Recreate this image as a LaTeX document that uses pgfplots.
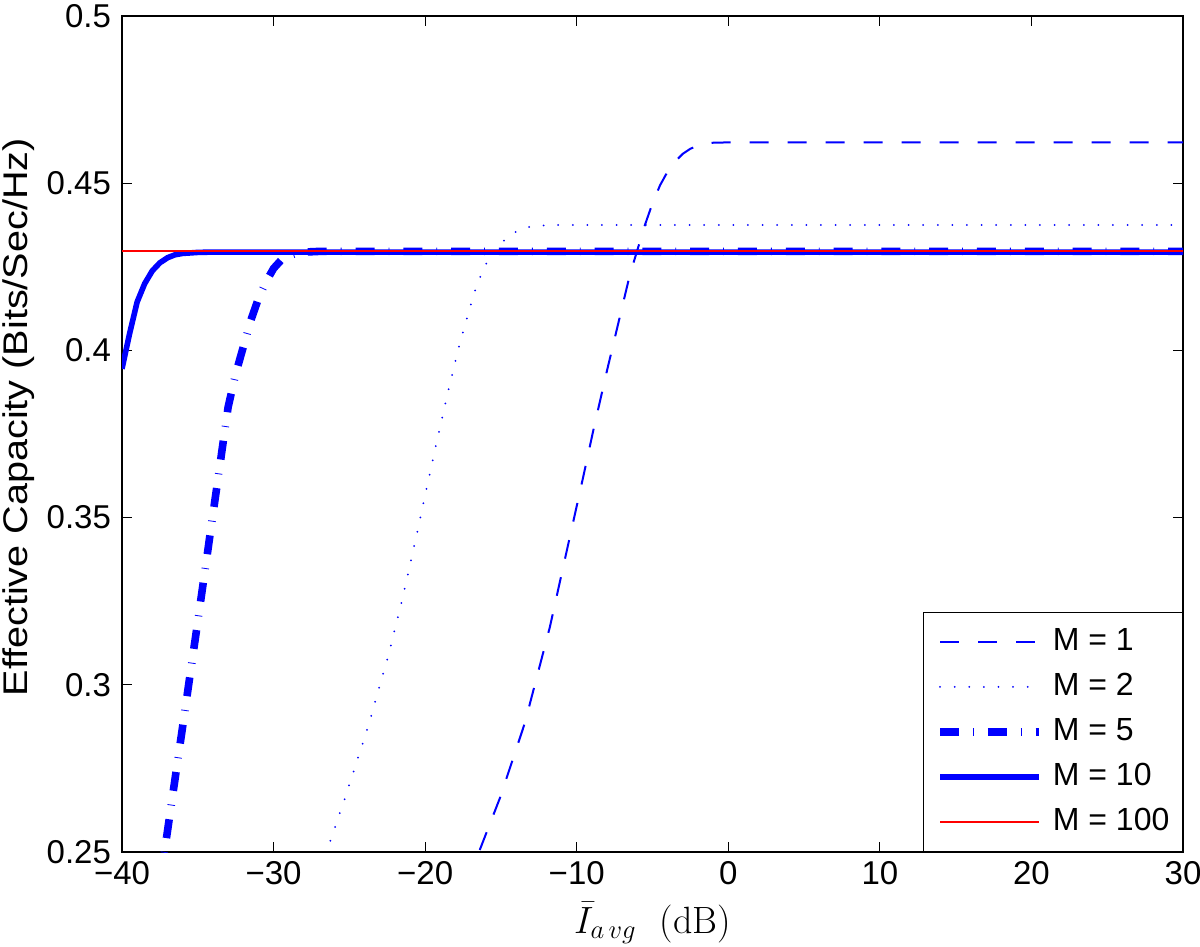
\RequirePackage{fix-cm}
\documentclass[border=0pt]{standalone}
\usepackage{fontspec}
\setsansfont{Liberation Sans}
\usepackage{pgfplots}
\pgfplotsset{compat=1.18}
\definecolor{mblue}{rgb}{0,0,1}
\definecolor{mred}{rgb}{1,0,0}
\begin{document}
\begin{tikzpicture}[font=\sffamily]
\begin{axis}[
  scale only axis, width=530.5pt, height=418pt,
  xmin=-40, xmax=30, ymin=0.25, ymax=0.5,
  xtick={-40,-30,-20,-10,0,10,20,30},
  xticklabels={−40,−30,−20,−10,0,10,20,30},
  ytick={0.25,0.3,0.35,0.4,0.45,0.5},
  yticklabels={0.25,0.3,0.35,0.4,0.45,0.5},
  tick align=inside, major tick length=5pt,
  tick style={black, line width=0.6pt},
  axis line style={black, line width=0.8pt},
  ticklabel style={font=\sffamily\fontsize{16.5}{20}\selectfont},
  yticklabel style={xshift=-2pt},
  xticklabel style={yshift=-1pt},
  xlabel={$\bar{I}_{a\,v g}$\ \ {\rmfamily (dB)}},
  xlabel style={font=\rmfamily\fontsize{19}{22}\selectfont, yshift=-2pt},
  ylabel={\scalebox{1.1}[0.95]{Effective Capacity (Bits/Sec/Hz)}},
  ylabel style={font=\sffamily\fontsize{18}{21}\selectfont, at={(ticklabel cs:0.52)}, yshift=-1pt},
  legend cell align=left,
  legend image code/.code={\draw[#1] (0pt,0pt) -- (49.5pt,0pt);},
  legend style={at={(1,0)}, anchor=south east, draw=black, line width=0.6pt,
    fill=white, inner xsep=6.5pt, inner ysep=7pt, row sep=7pt, column sep=5pt,
    font=\sffamily\fontsize{16}{19}\selectfont,
    nodes={inner sep=0pt, text height=12pt, text depth=3.5pt}},
]
% M = 1
\addplot[mblue, line width=1pt, dash pattern=on 9.5pt off 9.5pt] coordinates {
(-17.3,0.240) (-16.45,0.25) (-15.07,0.2661) (-13.42,0.2886) (-11.77,0.3173)
(-10.67,0.3398) (-9.57,0.3622) (-8.9,0.3762) (-8,0.394) (-7,0.413) (-6.5,0.4225)
(-6,0.430) (-5.5,0.4375) (-5,0.4440) (-4.5,0.4494) (-4,0.4535) (-3.5,0.4565)
(-3,0.4588) (-2.5,0.4603) (-2,0.4612) (-1.5,0.4618) (-1,0.4621) (0,0.4622) (30,0.4622)};
\addlegendentry{M = 1}
% M = 2
\addplot[mblue, line width=1pt, line cap=round, dash pattern=on 0pt off 7.3pt] coordinates {
(-27.2,0.241) (-26.5,0.25) (-25.24,0.2668) (-23.75,0.2877) (-22.43,0.3087) (-21.5,0.3257)
(-20.66,0.3428) (-19.85,0.3599) (-19.23,0.3727) (-18.5,0.3875) (-17.7,0.4025)
(-16.6,0.4196) (-15.8,0.4276) (-14.6,0.4339) (-13.7,0.4363) (-12.9,0.4372)
(-11.5,0.4375) (30,0.4375)};
\addlegendentry{M = 2}
% M = 5
\addplot[mblue, line width=3.8pt, dash pattern=on 9.5pt off 7pt on 0.4pt off 7pt] coordinates {
(-37.5,0.240) (-37.2,0.25) (-36,0.2875) (-35,0.319) (-34,0.351) (-33,0.383)
(-32.5,0.393) (-32,0.401) (-31.5,0.409) (-31,0.4155) (-30.5,0.4205) (-30,0.4245)
(-29.5,0.4270) (-29,0.4283) (-28.5,0.4290) (-28,0.4294) (-27,0.4296) (30,0.4296)};
\addlegendentry{M = 5}
% M = 10
\addplot[mblue, line width=2.8pt] coordinates {
(-40,0.3945) (-39.5,0.405) (-39,0.4145) (-38.5,0.4200) (-38,0.4238) (-37.5,0.4262)
(-37,0.4277) (-36.5,0.4286) (-36,0.4290) (-35,0.4293) (-34,0.4294) (30,0.4294)};
\addlegendentry{M = 10}
% M = 100
\addplot[mred, line width=1pt] coordinates {(-40,0.4297) (30,0.4297)};
\addlegendentry{M = 100}
\end{axis}
\pgfresetboundingbox
\path (current axis.south west) +(-61pt,-47pt) rectangle ([xshift=8.5pt,yshift=8pt]current axis.north east);
\end{tikzpicture}
\end{document}
